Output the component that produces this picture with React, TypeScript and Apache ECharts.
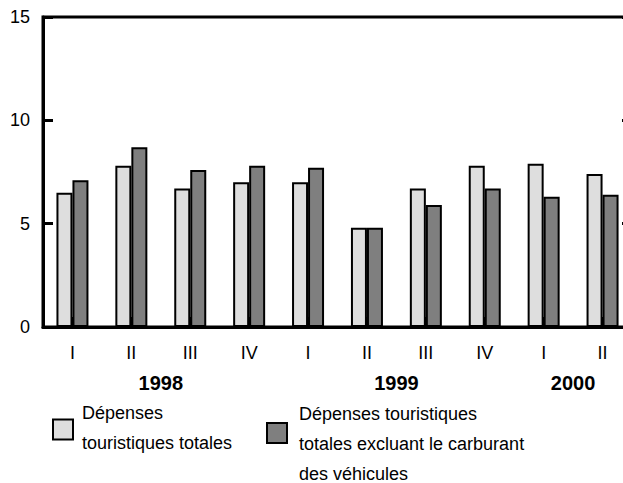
import React, { useEffect, useRef } from "react";
import * as echarts from "echarts";

const quarters = ["I", "II", "III", "IV", "I", "II", "III", "IV", "I", "II"];
const quarterYears = ["1998", "1998", "1998", "1998", "1999", "1999", "1999", "1999", "2000", "2000"];
const totalSpending = [6.5, 7.8, 6.7, 7.0, 7.0, 4.8, 6.7, 7.8, 7.9, 7.4];
const spendingExclFuel = [7.1, 8.7, 7.6, 7.8, 7.7, 4.8, 5.9, 6.7, 6.3, 6.4];
const seriesNames = [
  "Dépenses\ntouristiques totales",
  "Dépenses touristiques\ntotales excluant le carburant\ndes véhicules",
];

const FONT = "'Liberation Sans', Arial, Helvetica, sans-serif";

export default function App() {
  const ref = useRef<HTMLDivElement>(null);

  useEffect(() => {
    if (!ref.current) return;
    const chart = echarts.init(ref.current, undefined, { renderer: "svg" });

    // year label positions: mean category index of each year's quarters
    const years: string[] = [];
    quarterYears.forEach((y) => {
      if (!years.includes(y)) years.push(y);
    });
    const yearCenters = years.map((y) => {
      const idx = quarterYears.map((q, i) => (q === y ? i : -1)).filter((i) => i >= 0);
      return idx.reduce((a, b) => a + b, 0) / idx.length;
    });

    const lines = (name: string) => name.split("\n").map((l) => "{t|" + l + "}").join("\n");

    chart.setOption({
      animation: false,
      textStyle: { fontFamily: FONT },
      grid: {
        left: 43,
        top: 17,
        width: 589,
        height: 310,
        outerBoundsMode: "none",
        containLabel: false,
        show: true,
        borderColor: "#000",
        borderWidth: 3,
        backgroundColor: "transparent",
      },
      legend: [
        {
          data: [seriesNames[0]],
          left: 52,
          top: 398,
          padding: 0,
          itemWidth: 20,
          itemHeight: 20,
          icon: "rect",
          itemStyle: { borderColor: "#000", borderWidth: 2 },
          formatter: (name: string) => lines(name) + "\n{sp| }",
          textStyle: {
            fontFamily: FONT,
            fontSize: 18,
            color: "#000",
            lineHeight: 30,
            padding: [0, 0, 0, 4],
            rich: {
              sp: { fontSize: 2, lineHeight: 3, height: 3 },
              t: { fontFamily: FONT, fontSize: 18, color: "#000", lineHeight: 30 },
            },
          },
          selectedMode: false,
        },
        {
          data: [seriesNames[1]],
          left: 266,
          top: 377,
          padding: 0,
          itemWidth: 20,
          itemHeight: 20,
          icon: "rect",
          itemStyle: { borderColor: "#000", borderWidth: 2 },
          formatter: (name: string) => "{sp| }\n" + lines(name),
          textStyle: {
            fontFamily: FONT,
            fontSize: 18,
            color: "#000",
            lineHeight: 30,
            padding: [0, 0, 0, 7],
            rich: {
              sp: { fontSize: 2, lineHeight: 22, height: 22 },
              t: { fontFamily: FONT, fontSize: 18, color: "#000", lineHeight: 30 },
            },
          },
          selectedMode: false,
        },
      ],
      xAxis: [
        {
          type: "category",
          data: quarters,
          position: "bottom",
          axisLine: { show: true, onZero: false, lineStyle: { color: "#000", width: 3 } },
          axisTick: {
            show: true,
            inside: true,
            alignWithLabel: true,
            length: 10,
            lineStyle: { color: "#000", width: 2 },
          },
          axisLabel: {
            color: "#000",
            fontSize: 18,
            fontFamily: FONT,
            margin: 17,
            interval: 0,
          },
          splitLine: { show: false },
        },
        {
          type: "value",
          min: -0.5,
          max: quarters.length - 0.5,
          position: "bottom",
          axisLine: { show: false, onZero: false },
          axisTick: { show: false },
          splitLine: { show: false },
          axisLabel: {
            customValues: yearCenters,
            formatter: (v: number) => {
              const i = yearCenters.findIndex((c) => Math.abs(c - v) < 1e-6);
              return i >= 0 ? years[i] : "";
            },
            color: "#000",
            fontSize: 20,
            fontWeight: "bold",
            fontFamily: FONT,
            margin: 46,
            showMinLabel: true,
            showMaxLabel: true,
          },
        },
      ],
      yAxis: [
        {
          type: "value",
          min: 0,
          max: 15,
          interval: 5,
          position: "left",
          axisLine: { show: true, onZero: false, lineStyle: { color: "#000", width: 3 } },
          axisTick: { show: true, inside: true, length: 10, lineStyle: { color: "#000", width: 3 } },
          axisLabel: {
            color: "#000",
            fontSize: 18,
            fontFamily: FONT,
            margin: 13,
          },
          splitLine: { show: false },
        },
        {
          type: "value",
          min: 0,
          max: 15,
          interval: 5,
          position: "right",
          axisLine: { show: true, onZero: false, lineStyle: { color: "#000", width: 3 } },
          axisTick: { show: true, inside: true, length: 10, lineStyle: { color: "#000", width: 3 } },
          axisLabel: { show: false },
          splitLine: { show: false },
        },
      ],
      series: [
        {
          name: seriesNames[0],
          type: "bar",
          data: totalSpending,
          barWidth: 16,
          barGap: "0%",
          itemStyle: { color: "#dedede", borderColor: "#000", borderWidth: 2 },
        },
        {
          name: seriesNames[1],
          type: "bar",
          data: spendingExclFuel,
          barWidth: 16,
          barGap: "0%",
          itemStyle: { color: "#7f7f7f", borderColor: "#000", borderWidth: 2 },
        },
      ],
    });

    return () => chart.dispose();
  }, []);

  return (
    <div
      ref={ref}
      style={{ position: "fixed", left: 0, top: 0, width: 623, height: 483, background: "#fff" }}
    />
  );
}
